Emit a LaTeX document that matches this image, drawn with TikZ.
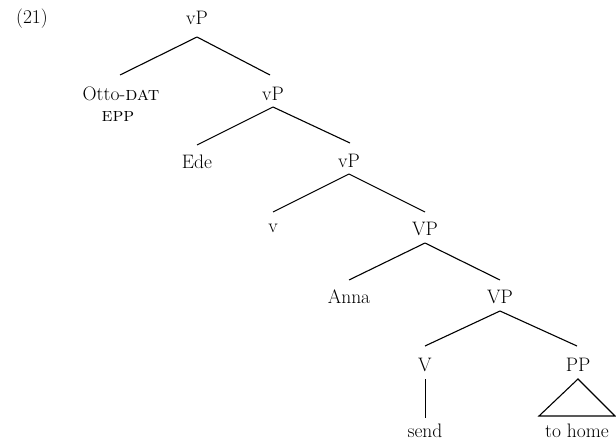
\documentclass[tikz,border=0pt]{standalone}
\usepackage{fontspec}
\setmainfont{Latin Modern Roman}[SmallCapsFont={Latin Modern Roman Caps}]
\begin{document}
\begin{tikzpicture}[x=1pt,y=-1pt,
  lab/.style={inner sep=0pt,font=\fontsize{19.5}{22}\selectfont},
  br/.style={line width=1.1pt}]
\useasboundingbox (0,0) rectangle (616,441);
\node[lab] (ex) at (32,19) {(21)};
\node[lab] (n1) at (197,18) {vP};
\node[lab] (otto) at (121,94) {Otto-\textsc{dat}};
\node[lab] (epp) at (118,116) {\textsc{epp}};
\node[lab] (n2) at (273,94) {vP};
\node[lab] (ede) at (197,162) {Ede};
\node[lab] (n3) at (349,161) {vP};
\node[lab] (v) at (273,228) {v};
\node[lab] (n4) at (425,229) {VP};
\node[lab] (anna) at (349,297) {Anna};
\node[lab] (n5) at (500,297) {VP};
\node[lab] (V) at (425,365) {V};
\node[lab] (pp) at (578,365) {PP};
\node[lab] (send) at (425,431) {send};
\node[lab] (home) at (577,431) {to home};
\coordinate (t1) at (197,37);
\coordinate (t2) at (273,107);
\coordinate (t3) at (349,174);
\coordinate (t4) at (425,243);
\coordinate (t5) at (500,311);
\coordinate (vb) at (425.5,379);
\coordinate (vt) at (425.5,418);
\draw[br] (t1) -- (120,75);
\draw[br] (t1) -- (270,75);
\draw[br] (t2) -- (197,145);
\draw[br] (t2) -- (350,143);
\draw[br] (t3) -- (273,212);
\draw[br] (t3) -- (425,212);
\draw[br] (t4) -- (349,280);
\draw[br] (t4) -- (500,280);
\draw[br] (t5) -- (425,346);
\draw[br] (t5) -- (577,346);
\draw[br] (vb) -- (vt);
\draw[br] (578,379) -- (539,416) -- (615,416) -- cycle;
\end{tikzpicture}
\end{document}
